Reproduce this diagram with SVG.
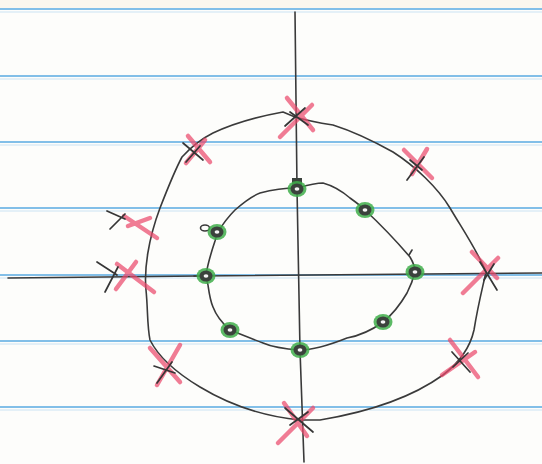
<svg xmlns="http://www.w3.org/2000/svg" width="542" height="464" viewBox="0 0 542 464">
<style>
.rule{stroke:#5aaae2;stroke-width:1.3;fill:none}
.rule2{stroke:#9ccbee;stroke-width:1;fill:none;opacity:.5}
.ink{stroke:#3a3a3a;stroke-width:1.6;fill:none;stroke-linecap:round;stroke-linejoin:round}
.pk{stroke:#ea4a6c;stroke-width:4.5;stroke-linecap:round;opacity:.72;fill:none}
.bx{stroke:#363636;stroke-width:1.7;stroke-linecap:round;fill:none}
</style>
<defs>
<g id="zero">
<ellipse rx="9.5" ry="8" fill="#3fae4a" opacity=".85"/>
<ellipse rx="6.5" ry="5.5" fill="#3b423c"/>
<ellipse rx="2.4" ry="1.8" fill="#f4f4f4"/>
</g>
</defs>
<rect width="542" height="464" fill="#fdfdfb"/>
<rect width="542" height="8" fill="#fbf7ee"/>
<g id="paper">
<path class="rule" d="M0 9H542M0 76H542M0 142H542M0 208H542M0 275H542M0 341H542M0 407H542"/>
<path class="rule2" d="M0 12H542M0 79H542M0 145H542M0 211H542M0 278H542M0 344H542M0 410H542"/>
</g>
<g id="connectors">
<path id="imag-axis" class="ink" d="M295 12 L297 188 L300 350 L304 462"/>
<path id="real-axis" class="ink" d="M8 278 L200 276 L542 273"/>
<path id="outer-curve" class="ink" d="M295 117 C305 120 320 123 333 125 C352 131 375 142 393 152 C415 166 438 188 450 208 C463 230 478 252 486 272 C482 290 478 305 474 330 C470 348 460 362 443 375 C418 393 380 410 320 420 L300 420 C270 417 233 407 200 387 C180 375 160 360 150 340 C147 325 148 310 146 290 C144 270 148 240 160 208 C167 190 175 170 182 157 C192 146 203 138 213 133 C230 125 250 118 283 112 Z"/>
<path id="inner-curve" class="ink" d="M297 188 C308 185 316 183 323 183 C334 186 343 192 350 198 C357 203 362 207 365 210 C380 224 398 243 410 257 C413 262 415 267 415 272 C413 280 410 287 407 293 C400 305 392 315 383 322 C372 330 358 336 347 338 C332 344 315 350 300 350 C285 349 272 347 263 343 C250 338 240 334 230 330 C222 323 216 315 213 307 C210 300 209 292 208 285 C207 281 206 278 206 275 C208 262 212 250 215 241 C216 237 217 234 218 232 C224 222 229 216 235 210 C244 202 252 196 260 193 C275 189 286 188 297 188 Z"/>
<path class="ink" d="M409 255 L412 250"/>
<ellipse class="ink" cx="205" cy="228" rx="4.5" ry="3"/>
<path class="ink" d="M194 276 L203 276"/>
</g>
<g id="zeros">
<g id="zero-top"><rect x="292" y="178" width="10" height="7" fill="#3b423c"/><use href="#zero" x="297" y="189"/></g>
<use id="zero-upper-right" href="#zero" x="365" y="210"/>
<use id="zero-right" href="#zero" x="415" y="272"/>
<use id="zero-lower-right" href="#zero" x="383" y="322"/>
<use id="zero-bottom" href="#zero" x="300" y="350"/>
<use id="zero-lower-left" href="#zero" x="230" y="330"/>
<use id="zero-left" href="#zero" x="206" y="276"/>
<use id="zero-upper-left" href="#zero" x="217" y="232"/>
</g>
<g id="poles">
<g id="pole-top">
<path class="pk" d="M280 137 L312 105 M287 98 L313 130"/>
<path class="bx" d="M285 126 L305 108 M290 112 L308 125"/>
</g>
<g id="pole-upper-left">
<path class="pk" d="M188 136 L210 162 M186 163 L205 140"/>
<path class="bx" d="M183 143 L203 160 M186 162 L200 146"/>
</g>
<g id="pole-upper-right">
<path class="pk" d="M404 150 L432 178 M412 174 L427 149"/>
<path class="bx" d="M407 180 L424 157 M410 160 L422 170"/>
</g>
<g id="pole-left-upper">
<path class="pk" d="M124 216 L157 238 M128 226 L150 218"/>
<path class="bx" d="M107 211 L125 219 M110 229 L125 214"/>
</g>
<g id="pole-left">
<path class="pk" d="M117 264 L154 292 M116 289 L136 262"/>
<path class="bx" d="M97 262 L117 275 M105 292 L118 267"/>
</g>
<g id="pole-right">
<path class="pk" d="M472 252 L497 278 M463 293 L498 258"/>
<path class="bx" d="M480 262 L497 290 M484 280 L494 264"/>
</g>
<g id="pole-lower-right">
<path class="pk" d="M450 340 L478 377 M442 375 L475 352"/>
<path class="bx" d="M452 352 L470 372 M453 367 L468 353"/>
</g>
<g id="pole-bottom">
<path class="pk" d="M278 443 L313 408 M284 403 L307 436"/>
<path class="bx" d="M285 408 L313 432 M290 425 L308 412"/>
</g>
<g id="pole-lower-left">
<path class="pk" d="M150 348 L180 382 M157 385 L180 345"/>
<path class="bx" d="M154 366 L175 373 M157 383 L172 362"/>
</g>
</g>
</svg>
